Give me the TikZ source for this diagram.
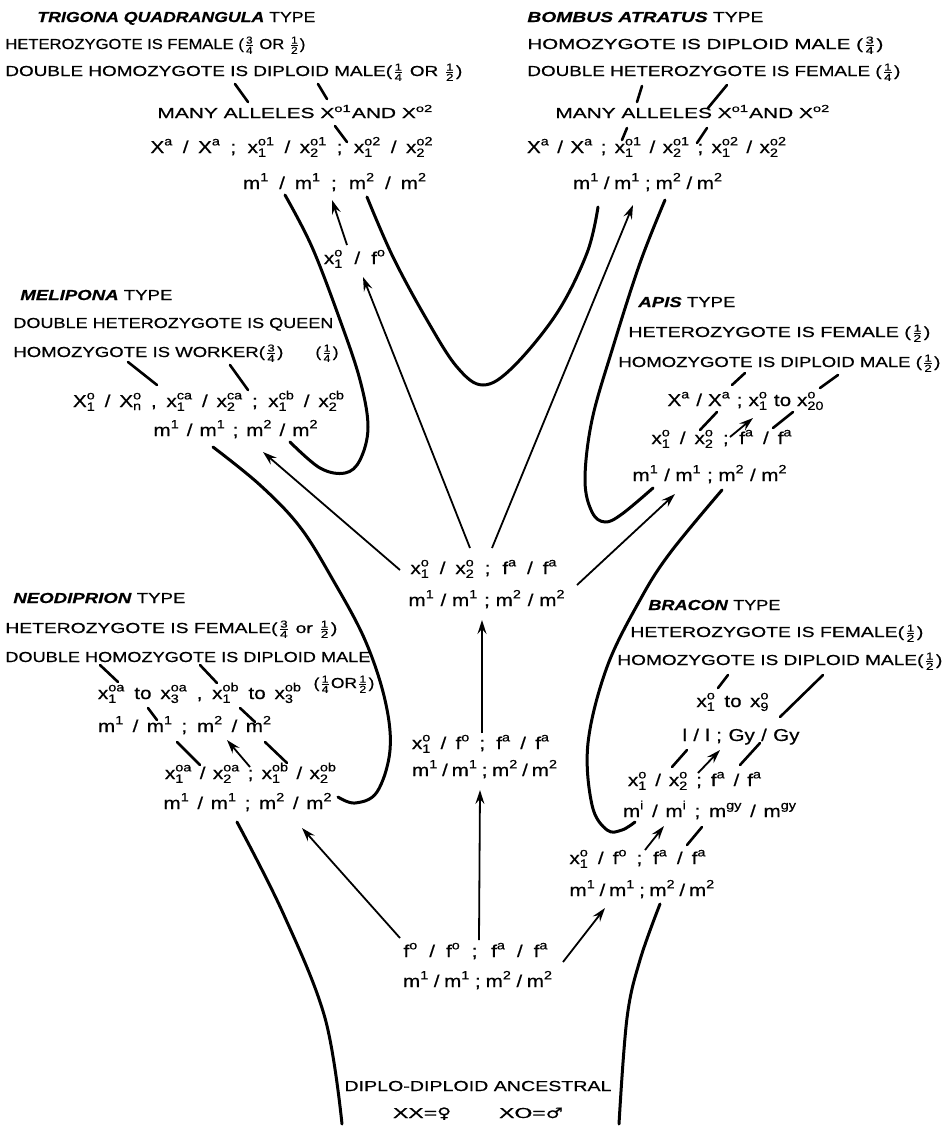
\documentclass[tikz,border=0pt]{standalone}
\usepackage{amsmath}
\usepackage{graphicx}
\usepackage{fontspec}
\setmainfont{Liberation Sans}[FakeStretch=1.2,FakeBold=0.6]
\newfontfamily\dejavu{DejaVu Sans}[FakeBold=0.6]
\usetikzlibrary{arrows.meta}
\newcommand{\gs}[3]{$\text{#1}^{\text{#2}}_{\text{#3}}$}
\newcommand{\gu}[2]{$\text{#1}^{\text{#2}}$}
\newcommand{\fr}[2]{$\genfrac{}{}{0.4pt}{1}{\text{#1}}{\text{#2}}$}
\newcommand{\gen}[1]{\textbf{\textit{#1}}}
\newcommand{\fw}[2]{\makebox[\dimexpr#1pt/2\relax][s]{#2}}
\newcommand{\rw}[2]{\resizebox{#1}{\height}{#2}}
\tikzset{
  lab/.style={anchor=base west, inner sep=0pt, font=\fontsize{7.25}{9}\selectfont},
  labc/.style={anchor=base, inner sep=0pt, font=\fontsize{7.25}{9}\selectfont},
  frm/.style={anchor=base, inner sep=0pt, font=\fontsize{8.6}{10}\selectfont},
  bigline/.style={line width=1.5pt, line cap=round},
  hstroke/.style={line width=1.3pt, line cap=round},
  arw/.style={line width=0.9pt, -{Stealth[length=7pt,width=4.5pt,inset=2.5pt]}},
}
\begin{document}
\begin{tikzpicture}[x=0.5pt,y=-0.5pt]
\useasboundingbox (0,0) rectangle (944,1126);
% ---------------- Trigona
\node[lab] (t0) at (37,22) {\rw{139pt}{\gen{TRIGONA QUADRANGULA} TYPE}};
\node[lab] (t1) at (5,49) {\rw{150pt}{HETEROZYGOTE IS FEMALE (\fr{3}{4} OR \fr{1}{2})}};
\node[lab] (t2) at (5,76) {\rw{228.5pt}{DOUBLE HOMOZYGOTE IS DIPLOID MALE(\fr{1}{4} OR \fr{1}{2})}};
\node[lab] (t3) at (157,118) {\rw{138pt}{MANY ALLELES \gu{X}{o1}AND \gu{X}{o2}}};
\node[frm] (t4) at (292,153) {\fw{283}{\gu{X}{a} / \gu{X}{a} ; \gs{x}{o1}{1} / \gs{x}{o1}{2} ; \gs{x}{o2}{1} / \gs{x}{o2}{2}}};
\node[frm] (t5) at (335,189) {\fw{184}{\gu{m}{1} / \gu{m}{1} ; \gu{m}{2} / \gu{m}{2}}};
\node[frm] (t6) at (355,264) {\fw{62}{\gs{x}{o}{1} / \gu{f}{o}}};
% ---------------- Bombus
\node[lab] (b0) at (527,22) {\rw{118pt}{\gen{BOMBUS ATRATUS} TYPE}};
\node[lab] (b1) at (527,49) {\rw{178pt}{HOMOZYGOTE IS DIPLOID MALE (\fr{3}{4})}};
\node[lab] (b2) at (527,76) {\rw{186.5pt}{DOUBLE HETEROZYGOTE IS FEMALE (\fr{1}{4})}};
\node[lab] (b3) at (555,118) {\rw{137.5pt}{MANY ALLELES \gu{X}{o1}AND \gu{X}{o2}}};
\node[frm] (b4) at (657,153) {\fw{260}{\gu{X}{a} / \gu{X}{a} ; \gs{x}{o1}{1} / \gs{x}{o1}{2} ; \gs{x}{o2}{1} / \gs{x}{o2}{2}}};
\node[frm] (b5) at (648,189) {\fw{150}{\gu{m}{1} / \gu{m}{1} ; \gu{m}{2} / \gu{m}{2}}};
% ---------------- Melipona
\node[lab] (m0) at (20,300) {\rw{76pt}{\gen{MELIPONA} TYPE}};
\node[lab] (m1) at (13,328) {\rw{160pt}{DOUBLE HETEROZYGOTE IS QUEEN}};
\node[lab] (m2) at (13,357) {\rw{135pt}{HOMOZYGOTE IS WORKER(\fr{3}{4})}};
\node[labc] (m2b) at (327,357) {(\fr{1}{4})};
\node[frm] (m3) at (209,407) {\fw{272}{\gs{X}{o}{1} / \gs{X}{o}{n} , \gs{x}{ca}{1} / \gs{x}{ca}{2} ; \gs{x}{cb}{1} / \gs{x}{cb}{2}}};
\node[frm] (m4) at (236,436) {\fw{165}{\gu{m}{1} / \gu{m}{1} ; \gu{m}{2} / \gu{m}{2}}};
% ---------------- Apis
\node[lab] (a0) at (638,307) {\rw{48.5pt}{\gen{APIS} TYPE}};
\node[lab] (a1) at (628,337) {\rw{151pt}{HETEROZYGOTE IS FEMALE (\fr{1}{2})}};
\node[lab] (a2) at (618,367) {\rw{161pt}{HOMOZYGOTE IS DIPLOID MALE (\fr{1}{2})}};
\node[frm] (a3) at (746,406) {\fw{157}{\gu{X}{a} / \gu{X}{a} ; \gs{x}{o}{1} to \gs{x}{o}{20}}};
\node[frm] (a4) at (722,444) {\fw{141}{\gs{x}{o}{1} / \gs{x}{o}{2} ; \gu{f}{a} / \gu{f}{a}}};
\node[frm] (a5) at (710,481) {\fw{155}{\gu{m}{1} / \gu{m}{1} ; \gu{m}{2} / \gu{m}{2}}};
% ---------------- Centre
\node[frm] (c1) at (484,574) {\fw{147}{\gs{x}{o}{1} / \gs{x}{o}{2} ; \gu{f}{a} / \gu{f}{a}}};
\node[frm] (c2) at (487,606) {\fw{157}{\gu{m}{1} / \gu{m}{1} ; \gu{m}{2} / \gu{m}{2}}};
\node[frm] (c3) at (481,749) {\fw{138}{\gs{x}{o}{1} / \gu{f}{o} ; \gu{f}{a} / \gu{f}{a}}};
\node[frm] (c4) at (485,776) {\fw{146}{\gu{m}{1} / \gu{m}{1} ; \gu{m}{2} / \gu{m}{2}}};
\node[frm] (c5) at (476,957) {\fw{145}{\gu{f}{o} / \gu{f}{o} ; \gu{f}{a} / \gu{f}{a}}};
\node[frm] (c6) at (478,987) {\fw{150}{\gu{m}{1} / \gu{m}{1} ; \gu{m}{2} / \gu{m}{2}}};
\node[labc] (c7) at (478,1091) {\rw{133.5pt}{DIPLO-DIPLOID ANCESTRAL}};
\node[labc] (c8) at (478,1118) {\rw{85pt}{XX={\dejavu ♀}\hspace{2.5em}XO={\dejavu ♂}}};
% ---------------- Neodiprion
\node[lab] (n0) at (13,603) {\rw{86pt}{\gen{NEODIPRION} TYPE}};
\node[lab] (n1) at (5,633) {\rw{166pt}{HETEROZYGOTE IS FEMALE(\fr{3}{4} or \fr{1}{2})}};
\node[lab] (n2) at (5,662) {\rw{182.5pt}{DOUBLE HOMOZYGOTE IS DIPLOID MALE}};
\node[labc] (n3) at (344,688) {(\fr{1}{4}OR\fr{1}{2})};
\node[frm] (n4) at (200,699) {\fw{204}{\gs{x}{oa}{1} to \gs{x}{oa}{3} , \gs{x}{ob}{1} to \gs{x}{ob}{3}}};
\node[frm] (n5) at (185,732) {\fw{174}{\gu{m}{1} / \gu{m}{1} ; \gu{m}{2} / \gu{m}{2}}};
\node[frm] (n6) at (251,779) {\fw{172}{\gs{x}{oa}{1} / \gs{x}{oa}{2} ; \gs{x}{ob}{1} / \gs{x}{ob}{2}}};
\node[frm] (n7) at (248,809) {\fw{169}{\gu{m}{1} / \gu{m}{1} ; \gu{m}{2} / \gu{m}{2}}};
% ---------------- Bracon
\node[lab] (r0) at (648,610) {\rw{66pt}{\gen{BRACON} TYPE}};
\node[lab] (r1) at (630,637) {\rw{146.5pt}{HETEROZYGOTE IS FEMALE(\fr{1}{2})}};
\node[lab] (r2) at (617,665) {\rw{162.5pt}{HOMOZYGOTE IS DIPLOID MALE(\fr{1}{2})}};
\node[frm] (r3) at (733,707) {\fw{73}{\gs{x}{o}{1} to \gs{x}{o}{9}}};
\node[frm] (r4) at (741,741) {\fw{117}{l / l ; Gy / Gy}};
\node[frm] (r5) at (695,786) {\fw{134}{\gs{x}{o}{1} / \gs{x}{o}{2} ; \gu{f}{a} / \gu{f}{a}}};
\node[frm] (r6) at (710,817) {\fw{174}{\gu{m}{i} / \gu{m}{i} ; \gu{m}{gy} / \gu{m}{gy}}};
\node[frm] (r7) at (638,864) {\fw{137}{\gs{x}{o}{1} / \gu{f}{o} ; \gu{f}{a} / \gu{f}{a}}};
\node[frm] (r8) at (641,896) {\fw{143}{\gu{m}{1} / \gu{m}{1} ; \gu{m}{2} / \gu{m}{2}}};

% ================= big curves
\coordinate (T1s) at (285,195); \coordinate (T1e) at (290,442);
\draw[bigline] plot[smooth,tension=0.6] coordinates {(T1s) (312,247) (340,320) (360,380) (368,427) (360,460) (345,473) (320,468) (T1e)};
\coordinate (Us) at (367,197); \coordinate (Ue) at (598,207);
\draw[bigline] plot[smooth,tension=0.6] coordinates {(Us) (393,257) (427,320) (457,367) (483,385) (513,367) (557,313) (587,253) (Ue)};
\coordinate (T3s) at (665,200); \coordinate (T3e) at (653,488);
\draw[bigline] plot[smooth,tension=0.6] coordinates {(T3s) (640,263) (613,347) (592,420) (585,480) (592,512) (605,522) (622,514) (T3e)};
\coordinate (T4s) at (213,447); \coordinate (T4e) at (338,797);
\draw[bigline] plot[smooth,tension=0.6] coordinates {(T4s) (260,485) (300,527) (333,580) (365,640) (385,700) (390,750) (377,792) (355,803) (T4e)};
\coordinate (T5s) at (722,490); \coordinate (T5e) at (635,822);
\draw[bigline] plot[smooth,tension=0.6] coordinates {(T5s) (670,553) (640,600) (607,667) (588,743) (592,805) (607,830) (622,830) (T5e)};
\coordinate (As) at (237,822); \coordinate (Ae) at (342,1124);
\draw[bigline] plot[smooth,tension=0.6] coordinates {(As) (283,913) (325,1018) (Ae)};
\coordinate (Bs) at (660,904); \coordinate (Be) at (619,1124);
\draw[bigline] plot[smooth,tension=0.6] coordinates {(Bs) (640,960) (627,1018) (Be)};

% ================= arrows
\coordinate (a1s) at (347,245); \coordinate (a1e) at (332,200);
\draw[arw] (a1s) -- (a1e);
\coordinate (a2s) at (470,548); \coordinate (a2e) at (363,277);
\draw[arw] (a2s) -- (a2e);
\coordinate (a3s) at (492,548); \coordinate (a3e) at (633,205);
\draw[arw] (a3s) -- (a3e);
\coordinate (a4s) at (400,570); \coordinate (a4e) at (263,452);
\draw[arw] (a4s) -- (a4e);
\coordinate (a5s) at (577,585); \coordinate (a5e) at (675,494);
\draw[arw] (a5s) -- (a5e);
\coordinate (a6s) at (482,733); \coordinate (a6e) at (482,620);
\draw[arw] (a6s) -- (a6e);
\coordinate (a7s) at (479,940); \coordinate (a7e) at (480,790);
\draw[arw] (a7s) -- (a7e);
\coordinate (a8s) at (400,938); \coordinate (a8e) at (302,828);
\draw[arw] (a8s) -- (a8e);
\coordinate (a9s) at (563,962); \coordinate (a9e) at (605,908);
\draw[arw] (a9s) -- (a9e);
\coordinate (a10s) at (730,437); \coordinate (a10e) at (753,418);
\draw[arw] (a10s) -- (a10e);
\coordinate (a11s) at (698,773); \coordinate (a11e) at (720,750);
\draw[arw] (a11s) -- (a11e);
\coordinate (a12s) at (645,850); \coordinate (a12e) at (664,826);
\draw[arw] (a12s) -- (a12e);
\coordinate (a13s) at (250,767); \coordinate (a13e) at (227,740);
\draw[arw] (a13s) -- (a13e);

% ================= short strokes
\foreach \p/\q in {
  {235,84}/{248,102}, {318,84}/{327,99}, {335,126}/{347,142},
  {642,86}/{637,102}, {727,85}/{708,108}, {627,128}/{622,140}, {707,128}/{697,143},
  {128,362}/{157,385}, {230,365}/{248,390},
  {745,373}/{732,385}, {838,375}/{820,388}, {717,412}/{700,430}, {793,412}/{773,428},
  {100,665}/{118,682}, {200,665}/{217,683}, {148,708}/{157,720}, {240,708}/{255,722},
  {177,742}/{200,765}, {265,742}/{287,763},
  {728,675}/{718,688}, {823,675}/{780,717}, {687,750}/{672,767}, {760,743}/{740,765}, {702,827}/{687,845}}
  {\draw[hstroke] (\p) -- (\q);}
\end{tikzpicture}
\end{document}
